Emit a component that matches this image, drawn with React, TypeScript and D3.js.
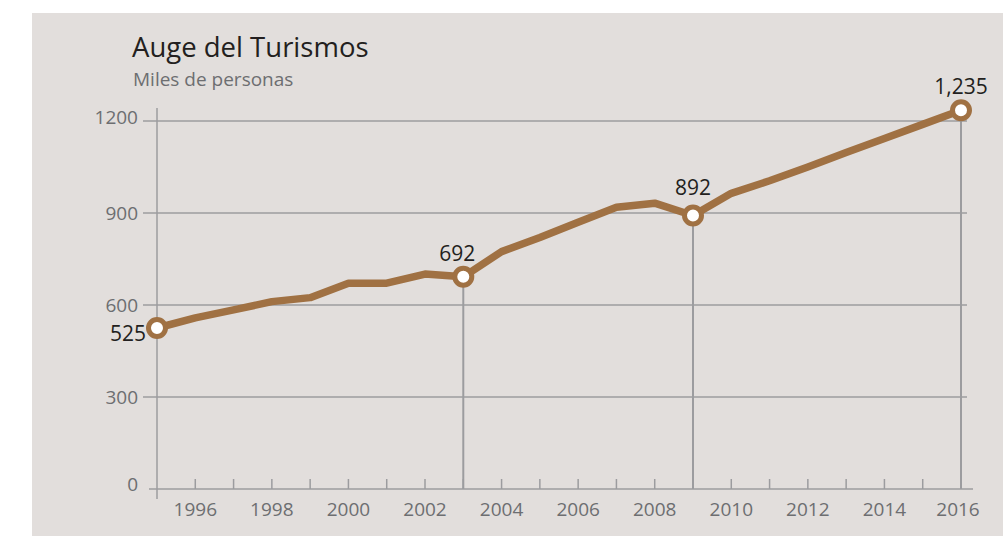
import React from 'react';
import * as d3 from 'd3';

const years = [1995, 1996, 1997, 1998, 1999, 2000, 2001, 2002, 2003, 2004, 2005, 2006, 2007, 2008, 2009, 2010, 2011, 2012, 2013, 2014, 2015, 2016];
const visitors = [525, 558, 584, 611, 624, 671, 671, 701, 692, 774, 820, 870, 919, 932, 892, 964, 1005, 1050, 1097, 1143, 1189, 1235];
const yTicks = [0, 300, 600, 900, 1200];
const xLabelYears = [1996, 1998, 2000, 2002, 2004, 2006, 2008, 2010, 2012, 2014, 2016];
const highlightedYears = [1995, 2003, 2009, 2016];
const title = 'Auge del Turismos';
const subtitle = 'Miles de personas';

const W = 1003;
const H = 536;
const BG = '#e2dedc';
const BROWN = '#a07143';
const GRID = '#9c9c9f';
const AXIS_TEXT = '#6d6e71';
const DARK = '#231f20';
const FONT = '"Open Sans", "Noto Sans", sans-serif';

export default function App() {
  const x = d3.scaleLinear().domain([1995, 2016]).range([157, 961]);
  const y = d3.scaleLinear().domain([0, 1200]).range([489, 121]);
  const data = years.map((yr, i) => ({ yr, v: visitors[i] }));
  const line = d3
    .line<{ yr: number; v: number }>()
    .x((d) => x(d.yr))
    .y((d) => y(d.v));
  const fmt = d3.format(',');
  const baseY = y(0);
  const highlights = data.filter((d) => highlightedYears.includes(d.yr));
  const tickYears = d3.range(1996, 2016);

  return (
    <svg
      width={W}
      height={H}
      style={{ position: 'absolute', left: 0, top: 0, display: 'block' }}
      fontFamily={FONT}
    >
      <rect x={0} y={0} width={W} height={H} fill="#ffffff" />
      <rect x={32} y={13} width={W - 32} height={H - 13} fill={BG} />

      <text x={132} y={57} fontSize={27.5} fill={DARK}>
        {title}
      </text>
      <text x={133} y={86} fontSize={19} fill={AXIS_TEXT}>
        {subtitle}
      </text>

      {/* gridlines */}
      {yTicks
        .filter((t) => t > 0)
        .map((t) => (
          <line key={'g' + t} x1={143} x2={967} y1={y(t)} y2={y(t)} stroke={GRID} strokeWidth={1.5} />
        ))}
      {/* baseline */}
      <line x1={149} x2={973} y1={baseY} y2={baseY} stroke={GRID} strokeWidth={1.5} />
      {/* y axis */}
      <line x1={x(1995)} x2={x(1995)} y1={108} y2={499} stroke={GRID} strokeWidth={1.5} />

      {/* y labels */}
      {yTicks.map((t) => (
        <text
          key={'yl' + t}
          x={138}
          y={y(t) - (t === 0 ? 5 : t === 1200 ? 4 : 0)}
          textAnchor="end"
          dominantBaseline="central"
          fontSize={19}
          fill={AXIS_TEXT}
        >
          {t}
        </text>
      ))}

      {/* year ticks */}
      {tickYears.map((yr) => (
        <line key={'t' + yr} x1={x(yr)} x2={x(yr)} y1={baseY - 10} y2={baseY} stroke={GRID} strokeWidth={1.5} />
      ))}

      {/* x labels */}
      {xLabelYears.map((yr) => (
        <text
          key={'xl' + yr}
          x={x(yr) - (yr === 2016 ? 3 : 0)}
          y={509}
          textAnchor="middle"
          dominantBaseline="central"
          fontSize={19}
          fill={AXIS_TEXT}
        >
          {yr}
        </text>
      ))}

      {/* drop lines */}
      {highlights
        .filter((d) => d.yr !== 1995)
        .map((d) => (
          <line key={'d' + d.yr} x1={x(d.yr)} x2={x(d.yr)} y1={y(d.v)} y2={baseY} stroke={GRID} strokeWidth={2} />
        ))}

      {/* series */}
      <path d={line(data) || ''} fill="none" stroke={BROWN} strokeWidth={7.5} strokeLinejoin="round" />

      {highlights.map((d) => (
        <circle key={'c' + d.yr} cx={x(d.yr)} cy={y(d.v)} r={8.5} fill="#ffffff" stroke={BROWN} strokeWidth={5} />
      ))}

      {highlights.map((d) =>
        d.yr === 1995 ? (
          <text
            key={'a' + d.yr}
            x={x(d.yr) - 11}
            y={y(d.v) + 5}
            textAnchor="end"
            dominantBaseline="central"
            fontSize={21}
            fill={DARK}
          >
            {fmt(d.v)}
          </text>
        ) : (
          <text
            key={'a' + d.yr}
            x={x(d.yr) - (d.yr === 2003 ? 6 : 0)}
            y={y(d.v) - (d.yr === 2009 ? 28 : 24)}
            textAnchor="middle"
            dominantBaseline="central"
            fontSize={21}
            fill={DARK}
          >
            {fmt(d.v)}
          </text>
        )
      )}
    </svg>
  );
}
